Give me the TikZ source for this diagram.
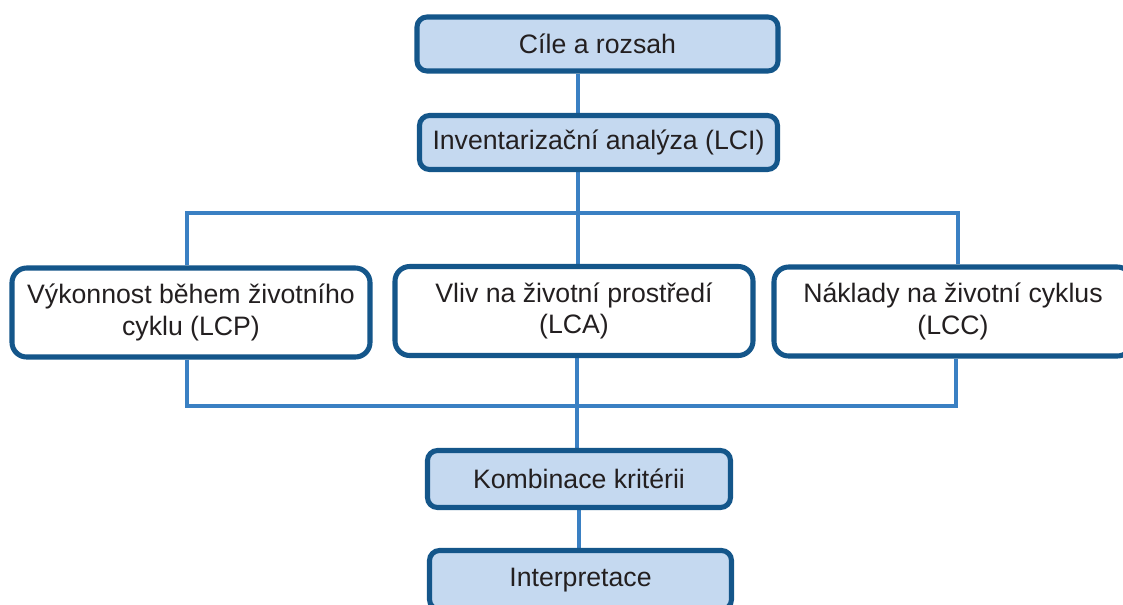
\documentclass[tikz,border=0pt]{standalone}
\usepackage{fontspec}
\setmainfont{Liberation Sans}
\usetikzlibrary{backgrounds}
\definecolor{boxline}{HTML}{14568A}
\definecolor{boxfill}{HTML}{C5D9F0}
\definecolor{wire}{HTML}{3A80C3}
\definecolor{ink}{HTML}{231F20}
\begin{document}
\begin{tikzpicture}[x=0.75pt,y=-0.75pt,
  every node/.style={font=\fontsize{20}{23.5}\selectfont, text=ink},
  stage/.style={draw=boxline, line width=3.8pt, fill=boxfill, rounded corners=7.5pt,
    inner sep=0pt, align=center},
  branch/.style={draw=boxline, line width=3.8pt, fill=white, rounded corners=11pt,
    inner sep=0pt, align=center, minimum width=358*0.75pt, minimum height=89*0.75pt},
  link/.style={draw=wire, line width=2.6pt}]
\useasboundingbox (0,0) rectangle (1123,604);

% main sequence
\node[stage, minimum width=361*0.75pt, minimum height=54*0.75pt] (goal) at (597.5,44) {Cíle a rozsah};
\node[stage, minimum width=358*0.75pt, minimum height=54*0.75pt] (inv) at (598.5,142.5) {Inventarizační analýza (LCI)};

% three parallel assessments
\node[branch] (lcp) at (191,312.5) {Výkonnost během životního\\cyklu (LCP)};
\node[branch] (lca) at (574,311) {Vliv na životní prostředí\\(LCA)};
\node[branch] (lcc) at (953,311.5) {Náklady na životní cyklus\\(LCC)};

% combination and interpretation
\node[stage, minimum width=303*0.75pt, minimum height=57*0.75pt] (komb) at (579,479) {Kombinace kritérii};
\node[stage, minimum width=302*0.75pt, minimum height=59*0.75pt] (interp) at (580.5,580) {Interpretace};

% bus points
\coordinate (spine) at (578,0);
\coordinate (topbus) at (0,213);
\coordinate (botbus) at (0,406);
\coordinate (lx) at (187,0);
\coordinate (mx) at (578,0);
\coordinate (rx) at (958,0);
\coordinate (lxb) at (187,0);
\coordinate (mxb) at (577,0);
\coordinate (rxb) at (956,0);
\coordinate (kx) at (579,0);

\begin{scope}[on background layer]
  \draw[link] (goal.south -| spine) -- (inv.north -| spine);
  \draw[link] (inv.south -| spine) -- (topbus -| spine);
  \draw[link] (lcp.north -| lx) -- (topbus -| lx) -- (topbus -| rx) -- (lcc.north -| rx);
  \draw[link] (topbus -| mx) -- (lca.north -| mx);
  \draw[link] (lcp.south -| lxb) -- (botbus -| lxb) -- (botbus -| rxb) -- (lcc.south -| rxb);
  \draw[link] (lca.south -| mxb) -- (komb.north -| mxb);
  \draw[link] (komb.south -| kx) -- (interp.north -| kx);
\end{scope}
\end{tikzpicture}
\end{document}
